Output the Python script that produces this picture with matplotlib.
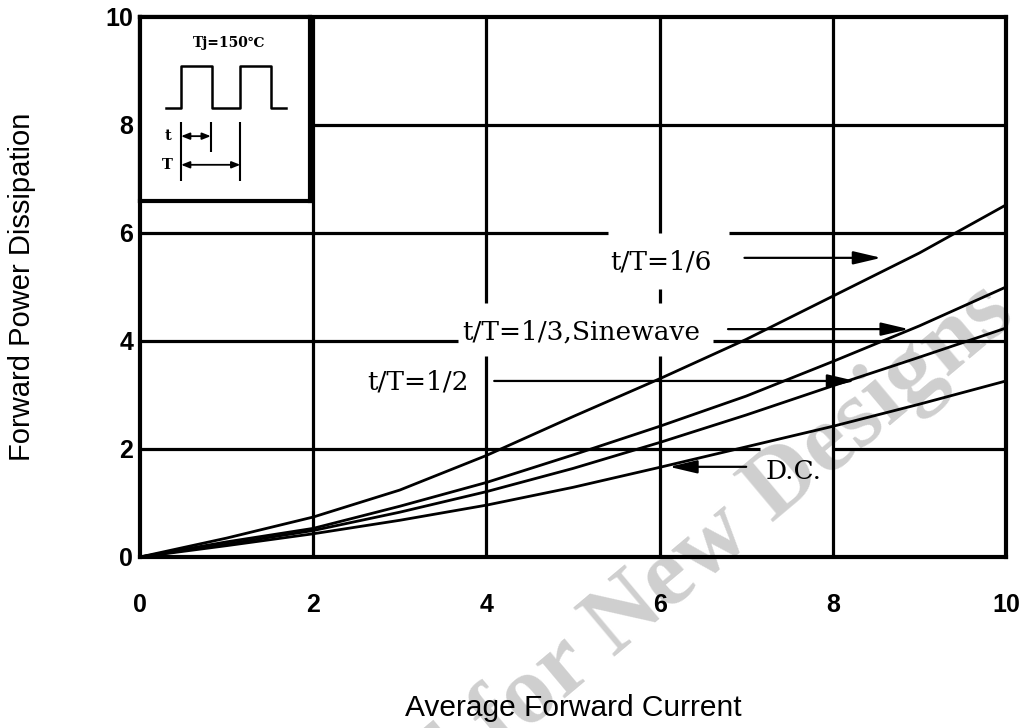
import numpy as np
import matplotlib
matplotlib.use("Agg")
import matplotlib.pyplot as plt

# Curve data (Average Forward Current vs Forward Power Dissipation)
current = [0, 1, 2, 3, 4, 5, 6, 7, 8, 9, 10]
p_1_6 = [0, 0.35, 0.74, 1.24, 1.88, 2.60, 3.30, 4.03, 4.83, 5.63, 6.52]
p_1_3 = [0, 0.28, 0.53, 0.94, 1.38, 1.89, 2.42, 2.98, 3.62, 4.28, 5.00]
p_1_2 = [0, 0.24, 0.49, 0.83, 1.21, 1.64, 2.12, 2.63, 3.17, 3.70, 4.24]
p_dc = [0, 0.21, 0.43, 0.68, 0.96, 1.29, 1.66, 2.04, 2.42, 2.83, 3.26]

ticks = [0, 2, 4, 6, 8, 10]

serif = ['DejaVu Serif', 'DejaVu Sans']
sans = 'Liberation Sans'

fig = plt.figure(figsize=(10.33, 7.28), dpi=100)
ax = fig.add_axes([140 / 1033, 1 - 557 / 728, 866 / 1033, 540 / 728])
ax.set_xlim(0, 10)
ax.set_ylim(0, 10)

# watermark behind everything
ax.text(1002 / 1033, 1 - 300 / 728, 'Not Recommended for New Designs', transform=fig.transFigure,
        rotation=40, rotation_mode='anchor', ha='right', va='center',
        fontsize=70, fontweight='bold', family='Liberation Serif',
        color='#cfcfcf', zorder=0.5, clip_on=False)

# grid lines drawn as segments (gaps where labels sit in the original)
grid_kw = dict(color='black', lw=2.3, zorder=1)


def vseg(x, lo, hi):
    ax.vlines([x] * len(lo), lo, hi, **grid_kw)


def hseg(y, lo, hi):
    ax.hlines([y] * len(lo), lo, hi, **grid_kw)


vseg(2, [0], [10])
vseg(4, [0, 4.7], [3.73, 10])
vseg(6, [0, 4.7, 6.0], [3.73, 4.97, 10])
vseg(8, [0], [10])
hseg(2, [0, 8], [7.16, 10])
hseg(4, [0, 6.62], [3.67, 10])
hseg(6, [0, 6.8], [5.4, 10])
hseg(8, [0], [10])

# curves
for p in [p_1_6, p_1_3, p_1_2, p_dc]:
    ax.plot(current, p, color='black', lw=2.0, zorder=3)

# labels and arrows
lab_kw = dict(fontsize=19, family=serif, color='black', va='center', zorder=4)
ax.text(6.01, 5.47, 't/T=1/6', ha='center', **lab_kw)
ax.text(5.09, 4.17, 't/T=1/3,Sinewave', ha='center', **lab_kw)
ax.text(3.21, 3.24, 't/T=1/2', ha='center', **lab_kw)
ax.text(7.55, 1.58, 'D.C.', ha='center', **lab_kw)

arr = dict(arrowstyle='-|>,head_length=0.85,head_width=0.2', color='black', lw=1.6,
           shrinkA=0, shrinkB=0, mutation_scale=20)
ax.annotate('', xy=(8.56, 5.54), xytext=(6.98, 5.54), arrowprops=arr, zorder=4)
ax.annotate('', xy=(8.88, 4.22), xytext=(6.79, 4.22), arrowprops=arr, zorder=4)
ax.annotate('', xy=(8.26, 3.26), xytext=(4.09, 3.26), arrowprops=arr, zorder=4)
ax.annotate('', xy=(6.11, 1.67), xytext=(7.0, 1.67), arrowprops=arr, zorder=4)

# frame and ticks
for s in ax.spines.values():
    s.set_linewidth(3)
ax.set_xticks(ticks)
ax.set_yticks(ticks)
ax.tick_params(length=0, labelsize=18, pad=5)
ax.tick_params(axis='x', pad=26)
for lbl in ax.get_xticklabels() + ax.get_yticklabels():
    lbl.set_fontweight('bold')
    lbl.set_family(sans)

ax.set_xlabel('Average Forward Current', fontsize=21.5, family=sans)
ax.xaxis.set_label_coords(0.5, -(708 - 557) / 540)
ax.xaxis.label.set_va('center')
ax.set_ylabel('Forward Power Dissipation', fontsize=21, family=sans)
ax.yaxis.set_label_coords(-(140 - 22) / 866, 0.5)
ax.yaxis.label.set_va('center')

# inset with the pulse waveform
ins = ax.inset_axes([0, 6.6, 1.96, 3.4], transform=ax.transData, zorder=5)
ins.set_xlim(0, 1)
ins.set_ylim(0, 1)
ins.set_xticks([])
ins.set_yticks([])
for s in ins.spines.values():
    s.set_linewidth(3)
wave_u = [0.155, 0.242, 0.242, 0.424, 0.424, 0.591, 0.591, 0.773, 0.773, 0.86]
wave_v = [0.503, 0.503, 0.731, 0.731, 0.503, 0.503, 0.731, 0.731, 0.503, 0.503]
ins.plot(wave_u, wave_v, color='black', lw=1.8)
ins.vlines([0.242, 0.417, 0.591], [0.108, 0.265, 0.108], [0.427, 0.427, 0.427],
           color='black', lw=1.5)
darr = dict(arrowstyle='<|-|>,head_length=0.5,head_width=0.2', color='black', lw=1.3,
            shrinkA=0, shrinkB=0)
ins.annotate('', xy=(0.417, 0.351), xytext=(0.242, 0.351), arrowprops=darr)
ins.annotate('', xy=(0.591, 0.195), xytext=(0.242, 0.195), arrowprops=darr)
ins.text(0.163, 0.351, 't', ha='center', va='center', fontsize=10.5, fontweight='bold', family=serif)
ins.text(0.163, 0.195, 'T', ha='center', va='center', fontsize=10.5, fontweight='bold', family=serif)
ins.text(0.523, 0.86, 'Tj=150℃', ha='center', va='center', fontsize=10, fontweight='bold', family=serif)

fig.savefig('out.png', dpi=100)
